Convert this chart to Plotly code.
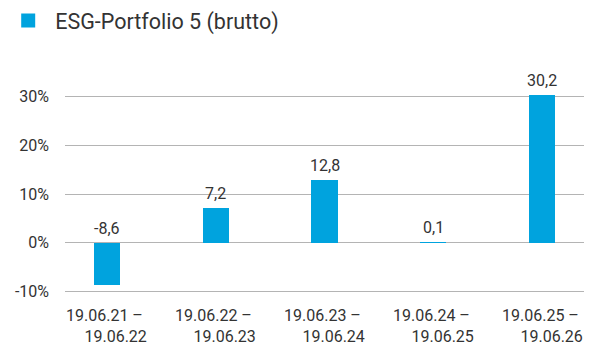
import plotly.graph_objects as go

# Annual returns per one-year period
periods = ["19.06.21 –", "19.06.22 –", "19.06.23 –", "19.06.24 –", "19.06.25 –"]
period_ends = ["19.06.22", "19.06.23", "19.06.24", "19.06.25", "19.06.26"]
returns = [-8.6, 7.2, 12.8, 0.1, 30.2]
series_name = "ESG-Portfolio 5 (brutto)"
y_ticks = [-10, 0, 10, 20, 30]

BAR_COLOR = "#00A3DE"
TEXT_COLOR = "#333333"
GRID_COLOR = "#B4B4B4"
FONT = "Roboto"

x = list(range(len(returns)))

fig = go.Figure()
fig.add_trace(go.Bar(
    x=x, y=returns, width=0.24,
    marker=dict(color=BAR_COLOR, line=dict(width=0)),
    showlegend=False, hoverinfo="skip",
))
# legend entry as a square marker
fig.add_trace(go.Scatter(
    x=[None], y=[None], mode="markers", name=series_name,
    marker=dict(symbol="square", size=14, color=BAR_COLOR),
))

annotations = []
# value labels above the bar top (or above the zero line for negatives)
for xi, v in zip(x, returns):
    annotations.append(dict(
        x=xi, y=max(v, 0), xref="x", yref="y",
        text=f"{v:.1f}".replace(".", ","),
        showarrow=False, yanchor="bottom", yshift=3,
        font=dict(family=FONT, size=16, color=TEXT_COLOR),
    ))
# two-line period labels under the axis, right aligned
for xi, a, b in zip(x, periods, period_ends):
    annotations.append(dict(
        x=xi, y=0, xref="x", yref="paper",
        text=f"{a}\u00a0<br>{b}",
        showarrow=False, align="right", xanchor="center", yanchor="top",
        yshift=-10,
        font=dict(family=FONT, size=16, color=TEXT_COLOR),
    ))

fig.update_layout(
    width=600, height=349,
    margin=dict(l=65, r=16, t=93.5, b=54.5, autoexpand=False),
    paper_bgcolor="white", plot_bgcolor="white",
    font=dict(family=FONT, size=16, color=TEXT_COLOR),
    bargap=0,
    showlegend=True,
    legend=dict(
        x=0.002, y=1, xref="container", yref="container",
        xanchor="left", yanchor="top",
        font=dict(family=FONT, size=21.5, color=TEXT_COLOR),
        bgcolor="rgba(0,0,0,0)", itemwidth=44,
    ),
    xaxis=dict(
        range=[-0.386, 4.386], showticklabels=False, showgrid=False,
        zeroline=False, showline=False, ticks="",
    ),
    yaxis=dict(
        range=[-10.5, 30.5], tickvals=y_ticks,
        ticktext=[f"{t}%" for t in y_ticks],
        showgrid=True, gridcolor=GRID_COLOR, gridwidth=1.2,
        zeroline=True, zerolinecolor=GRID_COLOR, zerolinewidth=1.2,
        showline=False, ticks="", ticklabelstandoff=15,
        tickfont=dict(family=FONT, size=16, color=TEXT_COLOR),
    ),
    annotations=annotations,
)

fig.write_html("out.html")
